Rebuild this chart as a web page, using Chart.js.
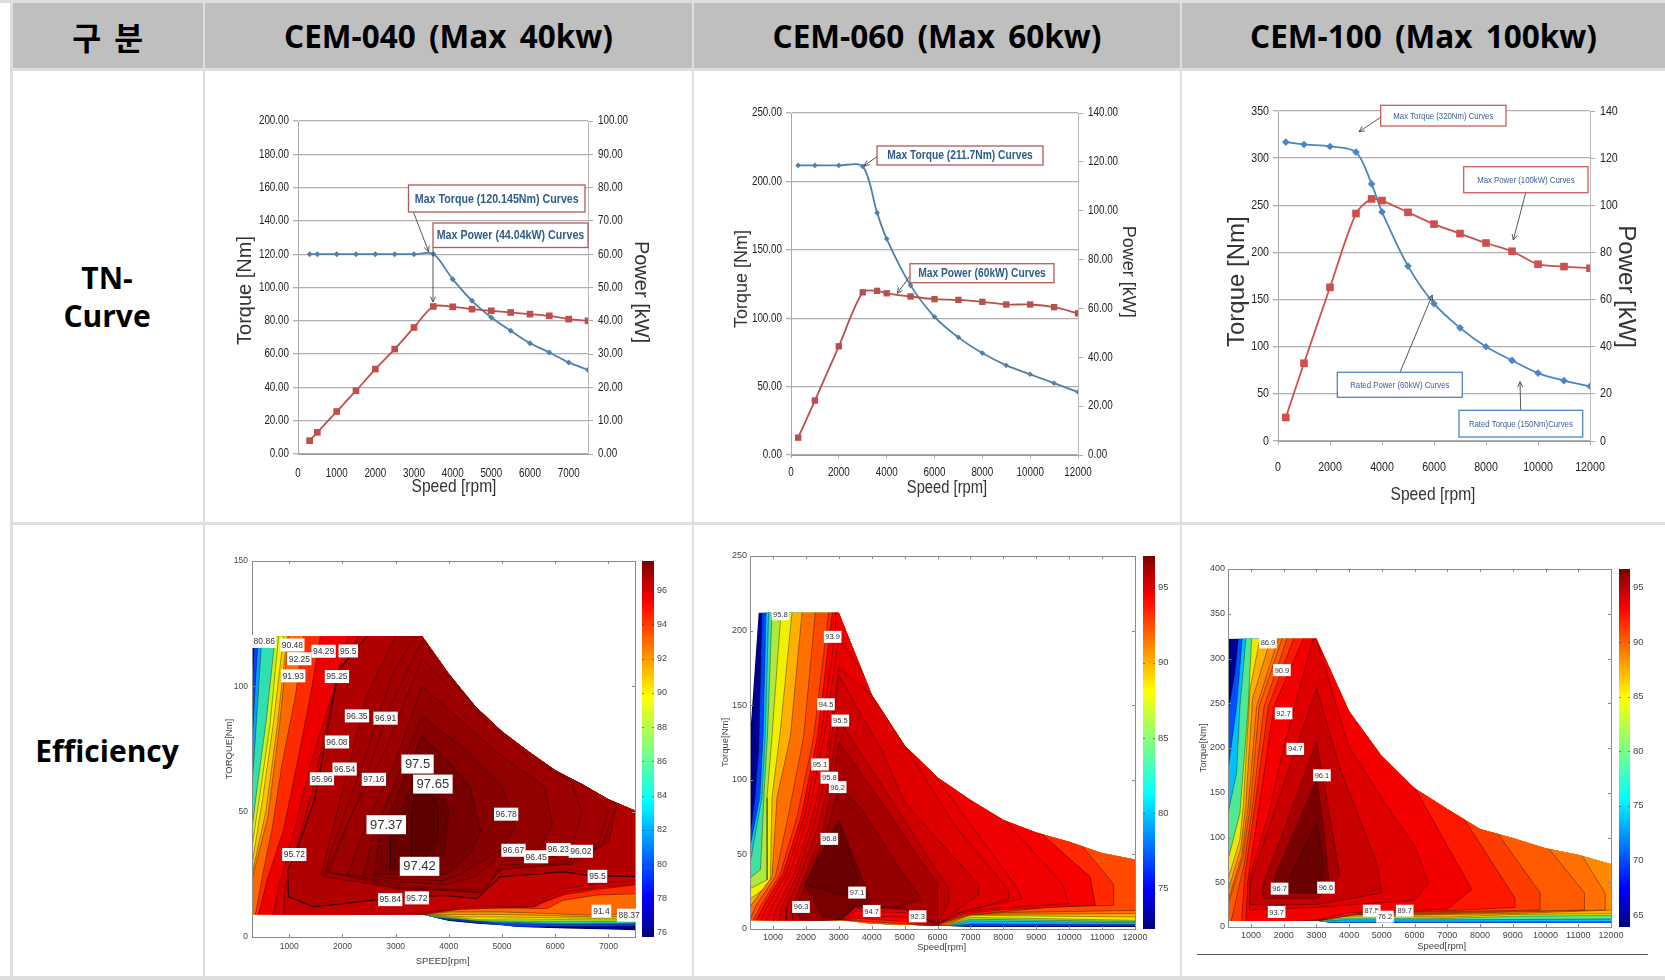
<!DOCTYPE html>
<html lang="ko"><head><meta charset="utf-8"><title>CEM TN-Curve / Efficiency</title>
<script src="https://cdn.jsdelivr.net/npm/chart.js@4"></script>
<style>
html,body{margin:0;padding:0;background:#fff;width:1665px;height:980px;overflow:hidden}
.r{position:absolute;background:#dedede}
.h{position:absolute;background:#bfbfbf;display:flex;align-items:center;justify-content:center;font:700 31.5px "Open Sans","Noto Sans CJK KR",sans-serif;color:#000;word-spacing:5px;white-space:nowrap}
.s{position:absolute;display:flex;align-items:center;justify-content:center;text-align:center;font:700 30px/38px "Open Sans",sans-serif;color:#000}
canvas{position:absolute;display:block;filter:blur(.45px)}
</style></head><body>
<script>
/* ---------- table text ---------- */
const headers=["구 분","CEM-040 (Max 40kw)","CEM-060 (Max 60kw)","CEM-100 (Max 100kw)"];
const rowNames=["TN-<br>Curve","Efficiency"];

/* ---------- TN curves ---------- */
const speed040=[300,500,1000,1500,2000,2500,3000,3500,4000,4500,5000,5500,6000,6500,7000,7500];
const torque040=[120,120,120,120,120,120,120,120.1,105,92,82,74,66.5,61,55,50.5];
const power040=[4,6.5,12.75,19,25.5,31.5,38,44.3,44.2,43.5,43,42.5,42,41.5,40.5,40];
const speed060=[300,1000,2000,3000,3600,4000,5000,6000,7000,8000,9000,10000,11000,12000];
const torque060=[211.7,211.7,211.7,211,177,158,124,101,86,74.5,65.5,59,52.5,46];
const power060=[7.1,22.3,44.5,66.6,67.2,66.2,64.9,63.8,63.5,62.7,61.6,61.6,60.5,58];
const speed100=[300,1000,2000,3000,3600,4000,5000,6000,7000,8000,9000,10000,11000,12000];
const torque100=[317,314.5,312.4,306.4,272.7,243,185.5,145.7,120,100,85.5,72,64,58];
const power100=[10,33,65.2,96.5,102.7,102,97,92,88,84,80.5,75,74,73.3];

const xTicks040=[0,1000,2000,3000,4000,5000,6000,7000];
const xTicks060=[0,2000,4000,6000,8000,10000,12000];
const xTicks100=[0,2000,4000,6000,8000,10000,12000];
const yTicks040=[0,20,40,60,80,100,120,140,160,180,200];
const pTicks040=[0,10,20,30,40,50,60,70,80,90,100];
const yTicks060=[0,50,100,150,200,250];
const pTicks060=[0,20,40,60,80,100,120,140];
const yTicks100=[0,50,100,150,200,250,300,350];
const pTicks100=[0,20,40,60,80,100,120,140];

/* ---------- efficiency maps: envelope, nested contour regions, colours ---------- */
const envelope040=[[300,120],[3500,120],[4000,105],[4500,92],[5000,82],[5500,74],[6000,66.5],[6500,61],[7000,55],[7500,50.5],[7500,2.7],[7000,3],[6000,3.5],[5300,4],[5000,4.7],[4530,5.3],[4000,6.4],[3500,9],[300,9]];
const colors040=['#0a3cff','#00a0ff','#30e0b0','#c8f028','#f4f000','#ffc400','#ff9800','#ff6a00','#ff2a00','#ee0000','#d40000','#c40000','#b00000','#a40000','#a20000','#a00000','#9c0000','#920000','#880000','#780000','#680000','#5c0000'];
const contours040=[
[[344,125],[344,120],[300,96],[290,96],[290,8],[3400,8],[5300,4],[6500,4.2],[7600,4.4],[7600,125]],
[[420,125],[420,120],[360,100],[300,76],[290,76],[290,8],[3400,8.3],[5000,5.4],[6200,5],[7600,5.2],[7600,125]],
[[488,125],[488,120],[380,85],[300,60],[290,60],[290,8],[3400,8.5],[4800,6],[6200,5.4],[7600,5.6],[7600,125]],
[[738,125],[738,120],[560,85],[400,60],[300,43],[290,43],[290,8],[3500,8.8],[4530,6.5],[5200,6.4],[6800,6.2],[7600,6.4],[7600,125]],
[[800,125],[800,120],[640,85],[470,60],[300,36],[290,36],[290,8],[3500,9],[4530,7],[5200,7.2],[6800,6.8],[7600,7],[7600,125]],
[[895,125],[895,120],[700,85],[500,55],[300,29],[290,29],[290,8],[3500,9],[4300,8],[5000,8],[6800,7.4],[7600,7.6],[7600,125]],
[[960,125],[960,120],[780,85],[560,50],[300,25],[290,25],[290,8],[3500,9],[4100,9],[5000,9],[6800,8],[7600,8.4],[7600,125]],
[[989,125],[989,120],[820,85],[600,48],[300,23],[290,23],[290,8],[3500,9],[4000,10],[5000,10],[6600,8.8],[7600,9.3],[7600,125]],
[[1270,125],[1270,120],[1114,96],[864,69],[676,43],[520,27],[363,9],[363,8],[3493,8.5],[3838,12],[5842,11.3],[6144,14.6],[6770,16.7],[7600,17.3],[7600,125]],
[[1584,125],[1584,120],[1396,96],[1145,69],[895,43],[582,22.6],[425,9],[425,8],[3493,8.7],[3900,13],[5600,12.6],[6200,17],[6800,19],[7600,21],[7600,125]],
[[2100,125],[2100,120],[1800,96],[1400,69],[1100,43],[800,20],[700,9],[700,8],[3400,8.8],[4200,11],[5600,12],[6200,18],[6900,20],[7600,21.3],[7600,125]],
[[2300,125],[2300,120],[1860,100],[1450,60],[1120,34],[920,20],[900,9],[900,8],[3450,9.5],[4527,12.5],[5600,12],[6100,19],[6900,21.5],[7600,22.5],[7600,125]],
[[2460,125],[2460,120],[1928,106.6],[1490,56],[1145,34.6],[970,26.6],[989,16],[1458,12],[2836,15.3],[3900,16.6],[4527,15.3],[4965,24],[6155,26],[6687,24.5],[7600,24],[7600,125]],
[[3000,125],[3000,120],[2450,96],[1900,50],[1600,25],[3100,19],[4000,18.5],[4530,17.5],[5000,27],[6300,29],[7000,38],[7200,56],[7600,70],[7600,125]],
[[3493,125],[2950,105],[2400,70],[1800,35],[1650,24],[3050,19.5],[4000,18.6],[4600,17.8],[5000,27.5],[6250,29.5],[6900,37],[7150,53],[6900,58],[6000,70],[5000,84],[3900,108]],
[[3493,118],[2900,92],[2300,55],[1700,26],[3000,20],[4000,18.7],[4650,18],[5000,28.5],[6200,30.5],[6800,36],[7000,50],[6700,58],[5700,72.5],[4800,86],[4000,103]],
[[3493,111],[2800,74],[2200,50],[1740,26],[3000,21],[4000,19],[4700,19],[5000,30],[6000,32],[6350,38],[6500,50],[6300,62],[5500,72],[4700,86],[4000,100]],
[[3493,100],[3000,70],[2500,48],[2100,25],[3000,22],[3950,21],[4500,24],[5000,33],[5700,35],[5950,45],[5800,60],[5000,72],[4300,85]],
[[3493,88],[3000,62],[2600,42],[2400,25],[3000,23],[3900,22.5],[4200,25],[5000,35],[5250,44],[5000,60],[4300,75]],
[[3493,80],[3100,60],[2700,40],[2600,25],[3400,25],[3950,25],[4400,33],[4600,42],[4400,60],[3900,72]],
[[3490,72],[3200,55],[2900,40],[2900,27],[3500,27],[3900,33],[4000,50],[3800,62]],
[[3450,62],[3300,50],[3300,32],[3500,30],[3800,40],[3800,52],[3650,58]]
];
const labelText040=["80.86","90.48","92.25","94.29","95.5","91.93","95.25","96.35","96.91","96.08","96.54","95.96","97.16","97.5","97.65","97.37","96.78","95.72","96.67","96.45","96.23","96.02","97.42","95.84","95.72","95.5","91.4","88.37"];
const labelSpeed040=[530,1058,1189,1646,2110,1076,1897,2273,2811,1897,2041,1615,2592,3412,3700,2824,5078,1095,5216,5641,6061,6481,3450,2899,3400,6794,6869,7389];
const labelTorque040=[117.9,116.5,111,114,114.1,104.2,103.9,88.2,87.3,77.8,67,63.1,62.9,69,61,44.8,49,32.9,34.6,32,34.9,34.2,28.2,14.9,15.6,24.2,10.3,8.7];

const envelope060=[[300,129],[563,212],[3000,212],[4000,157],[5000,123],[6000,101.6],[7000,86.4],[8000,73],[9000,64.7],[10000,58.4],[11000,51],[12000,46.5],[12000,1.3],[7000,1.3],[6100,2.2],[6000,2.2],[3990,3.6],[3100,5.8],[300,5.8]];
const colors060=['#0040ff','#00c8ff','#40e0a0','#b0e840','#f0f000','#ffb000','#ff7000','#ff4a00','#ff2800','#f80000','#f00000','#e80000','#e00000','#d00000','#c00000','#a80000','#960000','#7a0000','#6a0000'];
const contours060=[
[[665,220],[665,212],[563,120],[450,88],[300,62],[290,62],[290,3],[6500,1.8],[7000,1.6],[12100,2],[12100,220]],
[[786,220],[786,212],[700,129],[600,88],[300,55],[290,55],[290,3],[6500,2.2],[7000,3.6],[12100,3.1],[12100,220]],
[[867,220],[867,212],[760,129],[660,88],[300,44],[290,44],[290,3],[6400,2.2],[7000,5.4],[12100,4.2],[12100,220]],
[[968,220],[968,212],[830,129],[720,88],[620,40],[300,34],[290,34],[290,3],[6300,2.3],[7000,6.6],[12100,5],[12100,220]],
[[1242,220],[1242,212],[968,129],[817,88],[820,33],[300,27],[290,27],[290,3],[6300,2.3],[7000,8],[7500,7.6],[12100,5.8],[12100,220]],
[[1576,220],[1576,212],[1222,133],[968,88],[917,30],[300,20],[290,20],[290,3],[6250,2.4],[7000,9.2],[12100,8],[12100,220]],
[[1880,220],[1880,212],[1526,129],[1120,88],[968,35],[300,15],[290,15],[290,3],[6200,2.5],[7000,9.8],[12100,10.3],[12100,220]],
[[2285,220],[2285,212],[1931,129],[1475,77],[1070,35],[460,15],[300,6],[290,3],[6000,2.3],[6900,9.5],[8000,11],[12100,12.5],[12100,220]],
[[2690,220],[2690,212],[2235,129],[1728,75],[1222,37],[614,15],[411,6],[411,4],[3000,5.8],[3600,5.5],[5000,3.5],[5850,2.2],[6880,9.2],[9500,14.8],[11352,15.9],[11352,30],[10240,59.6],[10240,220]],
[[2800,220],[2800,212],[2350,129],[1850,75],[1300,37],[700,15],[500,6],[500,4],[3000,5.8],[3600,7],[5000,5],[5850,2.2],[6800,10],[8000,13],[10795,15.9],[10640,35],[8920,68.5],[8920,220]],
[[2900,220],[2900,200],[2450,129],[1950,75],[1400,37],[800,14],[650,6],[650,4],[3100,6],[3500,9],[5000,8],[5900,2.4],[6700,11],[7800,14],[9984,17],[9800,30],[7960,75],[7960,220]],
[[3000,195],[2550,129],[2050,75],[1500,37],[950,14],[800,6],[800,4],[3000,6],[3500,12],[5000,11],[5950,2.6],[6800,12],[8566,20.4],[8400,28],[5880,104]],
[[3000,175],[2650,120],[2200,75],[1650,37],[1100,14],[1000,6],[1000,4],[3000,6.5],[3500,14],[5000,13],[6000,3],[6500,10],[8161,20],[8161,26],[6500,70],[5000,123],[4000,157]],
[[3000,170],[2700,115],[2300,75],[1750,37],[1250,14],[1200,6],[1200,4],[3050,6.5],[3500,15],[5000,13.6],[6003,3],[6300,8],[7250,23],[7250,30],[6000,60],[5000,85],[4300,120]],
[[3000,140],[2700,100],[2400,70],[1850,37],[1400,14],[1400,6],[1400,4],[3100,6.5],[3500,15.5],[5000,13.8],[6003,3],[6338,18],[6338,27],[5500,55],[4500,90]],
[[3000,125],[2700,85],[2500,65],[2000,37],[1550,14],[1600,6],[1600,4],[3100,7],[3500,15.5],[5000,14],[6003,3],[6003,30],[5300,52],[4300,85]],
[[3000,95],[2700,70],[2100,35],[1700,14],[1900,6],[1900,4],[3100,7],[3500,16],[4800,14.5],[5500,20],[4800,42],[3700,80]],
[[3000,73],[2700,55],[2300,36],[1950,30],[2200,20],[2500,8],[3100,7],[3500,16],[4000,17],[3600,40]],
[[3000,73],[1950,30],[3200,22],[3600,33]]
];
const labelText060=["95.8","93.9","94.5","95.5","95.1","95.8","96.2","96.8","97.1","96.3","94.7","92.3"];
const labelSpeed060=[1222,2812,2610,3045,2427,2711,2964,2711,3552,1850,3997,5395];
const labelTorque060=[211,195.8,150.6,139.7,110.3,101.4,95.1,60.4,24.4,14.8,12.1,8.5];

const envelope100=[[300,322],[3000,322],[4000,241],[5000,190.7],[6000,155],[7000,131.8],[8000,109.5],[9000,99.4],[10000,88],[11000,80.8],[12000,70.4],[12000,4.5],[5000,4.5],[3470,4.5],[3000,7],[300,7]];
const colors100=['#0050ff','#00c0ff','#50e890','#f0e800','#ffb000','#ff8800','#ff7000','#ff5a00','#ff3c00','#ff1800','#f40000','#e00000','#c80000','#a80000','#7a0000','#6a0000'];
const contours100=[
[[613,330],[613,322],[511,284],[300,239],[290,239],[290,3],[3000,3],[3470,3.5],[12100,4],[12100,330]],
[[735,330],[735,322],[562,246],[300,175],[290,175],[290,3],[3200,5],[5000,5.5],[7000,5.5],[12100,6],[12100,330]],
[[847,330],[847,322],[664,246],[562,172],[300,127],[290,127],[290,3],[3200,6.5],[3800,8],[5000,8],[7000,8],[12100,9],[12100,330]],
[[1020,330],[1020,322],[918,246],[664,127],[300,75],[290,75],[290,3],[3100,7],[3800,10],[5000,10],[7000,9.5],[9000,12],[12100,13],[12100,330]],
[[1275,330],[1275,322],[969,265],[766,135],[664,98],[300,53],[290,53],[290,3],[3050,7],[3800,12],[5000,12],[7000,11],[9000,14],[12100,15],[12100,330]],
[[1600,330],[1600,322],[1050,255],[840,135],[690,88],[300,40],[290,40],[290,3],[3000,7],[4000,14],[5000,13],[7000,14],[9000,15],[12100,19],[12100,330]],
[[1836,330],[1836,322],[1173,246],[918,135],[715,79],[300,30],[290,30],[290,3],[3000,7],[4000,14],[5000,13.5],[7000,15],[11822,19],[11822,38],[11108,80],[11108,330]],
[[1950,330],[1950,322],[1250,246],[980,135],[760,79],[300,25],[290,25],[290,3],[3000,7],[4200,14.5],[5100,13.5],[7000,16],[11190,19],[11190,38],[10089,88],[10089,330]],
[[2100,330],[2100,322],[1400,246],[1050,135],[790,70],[400,7],[400,3],[3000,7],[4500,15],[7000,17],[9834,19],[9834,38],[8458,109],[8458,330]],
[[2300,330],[2300,322],[1530,246],[1122,135],[817,60],[715,7],[715,3],[3000,7.5],[4500,16],[7000,18],[9070,22],[9070,32],[7439,125],[7439,330]],
[[2600,330],[2600,322],[1700,246],[1250,135],[900,50],[850,7],[850,3],[3000,8],[4000,16],[7000,20],[7745,42],[6013,155],[6013,330]],
[[2900,322],[2000,200],[1500,120],[1000,60],[950,19],[3000,22],[6000,30],[6420,49],[6013,90],[5096,138],[3975,203],[3000,322]],
[[3007,267],[969,49],[969,25],[3000,25],[4994,38],[4840,71.5],[3771,172],[3466,209]],
[[3007,207],[1326,42],[1400,32],[3056,32],[3720,57],[3211,165]],
[[3007,165],[1733,57],[1682,38],[3000,38],[3400,45],[3211,115]],
[[3007,116],[2243,60],[2000,38],[3100,38],[3211,70]]
];
const labelText100=["86.9","90.9","92.7","94.7","96.1","96.7","96.6","93.7","87.5","89.7","76.2"];
const labelSpeed100=[1520,1948,1999,2355,3170,1876,3293,1785,4689,5698,5096];
const labelTorque100=[318,287,238.7,199,169.5,42.8,44,16.8,18.2,18.2,11.5];

const effXTicks040=[1000,2000,3000,4000,5000,6000,7000];
const effYTicks040=[0,50,100,150];
const barTicks040=[76,78,80,82,84,86,88,90,92,94,96];
const effXTicks060=[1000,2000,3000,4000,5000,6000,7000,8000,9000,10000,11000,12000];
const effYTicks060=[0,50,100,150,200,250];
const barTicks060=[75,80,85,90,95];
const effXTicks100=[1000,2000,3000,4000,5000,6000,7000,8000,9000,10000,11000,12000];
const effYTicks100=[0,50,100,150,200,250,300,350,400];
const barTicks100=[65,70,75,80,85,90,95];

/* ---------- page frame ---------- */
function div(cls,l,t,w,h,html){const d=document.createElement('div');d.className=cls;d.style.cssText=`left:${l}px;top:${t}px;width:${w}px;height:${h}px`;if(html)d.innerHTML=html;document.body.appendChild(d);return d;}
const colEdges=[12.5,205,694,1182,1665];
div('r',0,0,1665,3);div('r',0,976,1665,4);
div('r',10,0,2.5,980);
[203,692,1180].forEach(x=>div('r',x,0,2,980));
div('r',12,68,1653,3);div('r',12,522,1653,3);
headers.forEach((t,i)=>div('h',colEdges[i],3,colEdges[i+1]-colEdges[i]-(i<3?2:0),65,t));
div('s',11,71,192,451,rowNames[0]);
div('s',11,525,192,451,rowNames[1]);
div('r',1197,954,451,1).style.background='#555';

/* ---------- shared helpers ---------- */
const NARROW='"Liberation Sans Narrow","Liberation Sans",sans-serif', SANS='"Liberation Sans",Arial,sans-serif';
function pts(xs,ys){return xs.map((x,i)=>({x,y:ys[i]}));}
function setTicks(list){return s=>{s.ticks=list.map(v=>({value:v}));};}
function noPad(s){s.paddingTop=0;s.paddingBottom=0;}
function titleShift(s,dx,dy){ if(s._shifted)return; s._shifted=true; const d=s.drawTitle; s.drawTitle=function(){const c=this.ctx;c.save();c.translate(dx,dy);d.call(this);c.restore();};}
function canvasAt(l,t,w,h){const c=document.createElement('canvas');c.width=w;c.height=h;c.style.left=l+'px';c.style.top=t+'px';c.style.width=w+'px';c.style.height=h+'px';document.body.appendChild(c);
  /* text set in the "Narrow" stack is condensed to the reference's width */
  const x=c.getContext('2d'),f=x.fillText.bind(x);
  x.fillText=(s,a,b,m)=>{ if(x.font.includes('Narrow')) m=x.measureText(s).width*.82; return m===undefined?f(s,a,b):f(s,a,b,m); };
  return c;}
function arrow(ctx,x1,y1,x2,y2){const a=Math.atan2(y2-y1,x2-x1);ctx.beginPath();ctx.moveTo(x1,y1);ctx.lineTo(x2,y2);ctx.moveTo(x2-6*Math.cos(a-.45),y2-6*Math.sin(a-.45));ctx.lineTo(x2,y2);ctx.lineTo(x2-6*Math.cos(a+.45),y2-6*Math.sin(a+.45));ctx.stroke();}

/* ---------- TN chart ---------- */
function tnChart(o){
  const lh=o.fy*1.2, wL=Math.round(o.L-o.tl[0]+lh/2), wR=Math.round(o.tr[0]+lh/2-o.R), hB=Math.round(o.tx[1]+o.fx*.6-o.B);
  const left=o.L-wL, top=o.T-16, W=wL+(o.R-o.L)+wR, H=16+(o.B-o.T)+hB;
  const cv=canvasAt(left,top,W,H);
  const noteDraw={id:'notes',afterDatasetsDraw(ch){const c=ch.ctx;c.save();c.translate(-left,-top);
    o.notes.forEach(n=>{c.strokeStyle='#444';c.lineWidth=.9;arrow(c,n.ax,n.ay,n.bx,n.by);
      c.fillStyle='#fff';c.fillRect(n.x,n.y,n.w,n.h);c.strokeStyle=n.edge;c.lineWidth=1.3;c.strokeRect(n.x,n.y,n.w,n.h);
      c.fillStyle=o.noteColor;c.font=o.noteFont;c.textAlign='center';c.textBaseline='middle';c.fillText(n.t,n.x+n.w/2,n.y+n.h/2+.5);});
    c.restore();}};
  new Chart(cv,{type:'scatter',plugins:[noteDraw],data:{datasets:[
    {label:'Power',yAxisID:'yr',data:pts(o.sp,o.pw),showLine:true,borderColor:o.red,backgroundColor:o.red,borderWidth:o.lw,tension:.3,pointStyle:'rect',pointRadius:o.rs,pointBorderWidth:0},
    {label:'Torque',yAxisID:'y',data:pts(o.sp,o.tq),showLine:true,borderColor:o.blue,backgroundColor:o.blue,borderWidth:o.lw,tension:.3,pointStyle:'rectRot',pointRadius:o.rd,pointBorderWidth:0}
  ]},options:{responsive:false,animation:false,events:[],devicePixelRatio:1,layout:{padding:{top:16,left:0,right:0,bottom:0}},
    plugins:{legend:{display:false},tooltip:{enabled:false}},
    scales:{
      x:{type:'linear',min:0,max:o.xmax,afterBuildTicks:setTicks(o.xt),afterFit(s){s.height=hB;s.paddingLeft=0;s.paddingRight=0;titleShift(s,o.tx[0]-(o.L+o.R)/2,0);},
        grid:{display:true,drawOnChartArea:false,drawTicks:true,tickLength:o.xtl,color:'#aaa'},border:{color:'#999'},
        ticks:{color:'#222',font:{family:NARROW,size:o.ft},padding:o.xpad,maxRotation:0,autoSkip:false,callback:v=>String(v)},
        title:{display:true,text:'Speed [rpm]',color:'#333',font:{family:NARROW,size:o.fx},padding:0}},
      y:{position:'left',min:o.yt[0],max:o.yt[o.yt.length-1],afterBuildTicks:setTicks(o.yt),afterFit(s){s.width=wL;noPad(s);titleShift(s,0,o.tl[1]-(o.T+o.B)/2);},
        grid:{color:'#b0b0b0',lineWidth:1.3,tickLength:5},border:{color:'#aaa'},
        ticks:{color:'#222',font:{family:NARROW,size:o.ft},padding:o.ypad,callback:v=>v.toFixed(o.dec),autoSkip:false},
        title:{display:true,text:'Torque [Nm]',color:'#333',font:{family:SANS,size:o.fy},padding:0}},
      yr:{position:'right',min:0,max:o.pt[o.pt.length-1],afterBuildTicks:setTicks(o.pt),afterFit(s){s.width=wR;noPad(s);titleShift(s,0,o.tr[1]-(o.T+o.B)/2);},
        grid:{drawOnChartArea:false,color:'#aaa',tickLength:5},border:{color:'#bbb'},
        ticks:{color:'#222',font:{family:NARROW,size:o.ft},padding:o.ypad+1,callback:v=>v.toFixed(o.dec),autoSkip:false},
        title:{display:true,text:'Power [kW]',color:'#333',font:{family:SANS,size:o.fy},padding:0}}
    }}});
}
tnChart({L:298,R:588,T:121,B:454,xmax:7500,sp:speed040,tq:torque040,pw:power040,xt:xTicks040,yt:yTicks040,pt:pTicks040,dec:2,
  tl:[245,290.5],tr:[640.5,292],tx:[454,487],fy:20,fx:19,ft:12,xpad:12,xtl:0,ypad:4,lw:1.8,rs:4.7,rd:3,blue:'#4f81b0',red:'#bf4f4c',
  noteColor:'#2f5c8a',noteFont:'bold 13px '+NARROW,notes:[
  {t:'Max Torque (120.145Nm) Curves',x:408.5,y:185,w:176.5,h:27,edge:'#b45a58',ax:408.5,ay:199,bx:428.6,by:251.7},
  {t:'Max Power (44.04kW) Curves',x:433,y:223,w:155,h:24.5,edge:'#b45a58',ax:433,ay:247.6,bx:433,by:302}]});
tnChart({L:791,R:1078,T:113,B:455,xmax:12000,sp:speed060,tq:torque060,pw:power060,xt:xTicks060,yt:yTicks060,pt:pTicks060,dec:2,
  tl:[742,279],tr:[1127.7,271.7],tx:[947,488],fy:18,fx:18,ft:12,xpad:7,xtl:3,ypad:4,lw:1.8,rs:4.5,rd:2.8,blue:'#4f81a8',red:'#b8504e',
  noteColor:'#2f5c8a',noteFont:'bold 12.5px '+NARROW,notes:[
  {t:'Max Torque (211.7Nm) Curves',x:877,y:146,w:166,h:19,edge:'#b45a58',ax:877,ay:156.7,bx:864,by:165.7},
  {t:'Max Power (60kW) Curves',x:910,y:263.7,w:144,h:19,edge:'#b45a58',ax:910,ay:276,bx:897.3,by:293.3}]});
tnChart({L:1278,R:1590,T:111,B:441,xmax:12000,sp:speed100,tq:torque100,pw:power100,xt:xTicks100,yt:yTicks100,pt:pTicks100,dec:0,
  tl:[1237.7,281.7],tr:[1625.7,286.7],tx:[1433,495],fy:24,fx:19,ft:13,xpad:15,xtl:4,ypad:4,lw:1.8,rs:5.4,rd:3.8,blue:'#4a86c4',red:'#cf4f4f',
  noteColor:'#3a5f94',noteFont:'9.5px '+NARROW,notes:[
  {t:'Max Torque (320Nm) Curves',x:1380.7,y:105.3,w:125.3,h:20.7,edge:'#d05a5a',ax:1381.7,ay:116.7,bx:1359,by:131.7},
  {t:'Max Power (100kW) Curves',x:1463.7,y:166.7,w:124.3,h:26,edge:'#d05a5a',ax:1525.7,ay:192.7,bx:1513.3,by:240},
  {t:'Rated Power (60kW) Curves',x:1337.3,y:372.3,w:125,h:25,edge:'#4a86c4',ax:1400,ay:372.3,bx:1432.3,by:295},
  {t:'Rated Torque (150Nm)Curves',x:1459,y:410.3,w:123.7,h:26.7,edge:'#4a86c4',ax:1520.7,ay:410.3,bx:1520,by:381.7}]});

/* ---------- efficiency chart ---------- */
function effChart(o){
  const lh=o.fa*1.2, wL=Math.round(o.L-o.ty[0]+lh/2), hB=Math.round(o.tx[1]+lh/2-o.B), wR=60;
  const left=o.L-wL, top=o.T-12, W=wL+(o.R-o.L)+wR, H=12+(o.B-o.T)+hB;
  const cv=canvasAt(left,top,W,H);
  const body={id:'effBody',
    beforeDatasetsDraw(ch){const c=ch.ctx,sx=ch.scales.x,sy=ch.scales.y;c.save();c.beginPath();
      o.env.forEach((p,i)=>{const X=sx.getPixelForValue(p[0]),Y=sy.getPixelForValue(p[1]);i?c.lineTo(X,Y):c.moveTo(X,Y);});c.closePath();c.clip();},
    afterDatasetsDraw(ch){const c=ch.ctx,sx=ch.scales.x,sy=ch.scales.y,a=ch.chartArea;c.restore();
      /* box and inward ticks */
      c.strokeStyle='#8a8a8a';c.lineWidth=1;c.strokeRect(a.left+.5,a.top+.5,a.right-a.left,a.bottom-a.top);
      c.beginPath();o.xt.forEach(v=>{const X=Math.round(sx.getPixelForValue(v))+.5;c.moveTo(X,a.bottom);c.lineTo(X,a.bottom-3);c.moveTo(X,a.top);c.lineTo(X,a.top+3);});
      o.yt.forEach(v=>{const Y=Math.round(sy.getPixelForValue(v))+.5;c.moveTo(a.left,Y);c.lineTo(a.left+3,Y);c.moveTo(a.right,Y);c.lineTo(a.right-3,Y);});c.stroke();
      /* value labels */
      c.textAlign='center';c.textBaseline='middle';
      o.labT.forEach((t,i)=>{const big=o.big&&o.big.includes(t),fs=big?13:o.fl,X=sx.getPixelForValue(o.labX[i]),Y=sy.getPixelForValue(o.labY[i]);
        c.font=fs+'px '+SANS;const tw=c.measureText(t).width+(big?7:3),th=fs+(big?6:4.5);
        c.fillStyle='#fff';c.fillRect(X-tw/2,Y-th/2,tw,th);c.fillStyle='#333';c.fillText(t,X,Y+.5);});
      /* colour bar */
      const sb=ch.scales.bar,g=c.createLinearGradient(0,a.bottom,0,a.top);
      [[0,'#00007f'],[.11,'#0000ff'],[.36,'#00ffff'],[.5,'#80ff80'],[.64,'#ffff00'],[.89,'#ff0000'],[1,'#7f0000']].forEach(s=>g.addColorStop(s[0],s[1]));
      const bx=a.right+o.barGap;c.fillStyle=g;c.fillRect(bx,a.top,o.barW,a.bottom-a.top);
      c.strokeStyle='rgba(40,40,40,.5)';c.beginPath();o.bt.forEach(v=>{const Y=Math.round(sb.getPixelForValue(v))+.5;c.moveTo(bx,Y);c.lineTo(bx+2,Y);c.moveTo(bx+o.barW,Y);c.lineTo(bx+o.barW-2,Y);});c.stroke();
    }};
  const sets=[{data:o.env.map(p=>({x:p[0],y:p[1]})),backgroundColor:'#00008f',borderColor:'rgba(0,0,0,.55)',borderWidth:1,fill:'shape',showLine:true,pointRadius:0,tension:0,order:1000}];
  o.cont.forEach((poly,i)=>{const d=poly.map(p=>({x:p[0],y:p[1]}));d.push({x:poly[0][0],y:poly[0][1]});
    const heavy=o.col[i]==='#b00000'&&o.thick;
    sets.push({data:d,backgroundColor:o.col[i],borderColor:'rgba(0,0,0,'+(heavy?.7:.5)+')',borderWidth:heavy?1.2:.7,fill:'shape',showLine:true,pointRadius:0,tension:0,order:999-i});});
  new Chart(cv,{type:'scatter',plugins:[body],data:{datasets:sets},options:{responsive:false,animation:false,events:[],devicePixelRatio:1,
    layout:{padding:{top:12,left:0,right:0,bottom:0}},plugins:{legend:{display:false},tooltip:{enabled:false}},
    scales:{
      x:{type:'linear',min:300,max:o.xmax,afterBuildTicks:setTicks(o.xt),afterFit(s){s.height=hB;s.paddingLeft=0;s.paddingRight=0;titleShift(s,o.tx[0]-(o.L+o.R)/2,0);},
        grid:{display:false,drawTicks:false},border:{display:false},ticks:{color:'#444',font:{family:SANS,size:o.ft},padding:o.xpad,maxRotation:0,autoSkip:false,callback:v=>String(v)},
        title:{display:true,text:o.xName,color:'#444',font:{family:SANS,size:o.fa},padding:0}},
      y:{position:'left',min:0,max:o.ymax,afterBuildTicks:setTicks(o.yt),afterFit(s){s.width=wL;noPad(s);},
        grid:{display:false,drawTicks:false},border:{display:false},ticks:{color:'#444',font:{family:SANS,size:o.ft},padding:o.ypad,autoSkip:false},
        title:{display:true,text:o.yName,color:'#444',font:{family:SANS,size:o.fa},padding:0}},
      bar:{position:'right',min:o.bmin,max:o.bmax,afterBuildTicks:setTicks(o.bt),afterFit(s){s.width=wR;noPad(s);},
        grid:{display:false,drawTicks:false},border:{display:false},ticks:{color:'#444',font:{family:SANS,size:o.ft+.5},padding:o.barGap+o.barW+3,autoSkip:false}}
    }}});
}
effChart({L:252,R:635,T:561,B:937,xmax:7500,ymax:150,env:envelope040,cont:contours040,col:colors040,thick:true,labT:labelText040,labX:labelSpeed040,labY:labelTorque040,big:["97.5","97.65","97.37","97.42"],
  xt:effXTicks040,yt:effYTicks040,bt:barTicks040,bmin:75.75,bmax:97.7,ty:[230,748],tx:[442.7,961],fa:9.5,ft:8.5,fl:8.5,xpad:5,ypad:4,barGap:7,barW:12,xName:'SPEED[rpm]',yName:'TORQUE[Nm]'});
effChart({L:750,R:1135,T:556,B:929,xmax:12000,ymax:250,env:envelope060,cont:contours060,col:colors060,labT:labelText060,labX:labelSpeed060,labY:labelTorque060,
  xt:effXTicks060,yt:effYTicks060,bt:barTicks060,bmin:72.3,bmax:97.1,ty:[726,742],tx:[941.7,947.7],fa:9.5,ft:9,fl:7.5,xpad:3,ypad:3,barGap:8,barW:12,xName:'Speed[rpm]',yName:'Torque[Nm]'});
effChart({L:1228,R:1611,T:569,B:927,xmax:12000,ymax:400,env:envelope100,cont:contours100,col:colors100,labT:labelText100,labX:labelSpeed100,labY:labelTorque100,
  xt:effXTicks100,yt:effYTicks100,bt:barTicks100,bmin:63.9,bmax:96.7,ty:[1204,748],tx:[1441.7,946],fa:9.5,ft:9,fl:7.5,xpad:3,ypad:3,barGap:8,barW:11,xName:'Speed[rpm]',yName:'Torque[Nm]'});
</script>
</body></html>
